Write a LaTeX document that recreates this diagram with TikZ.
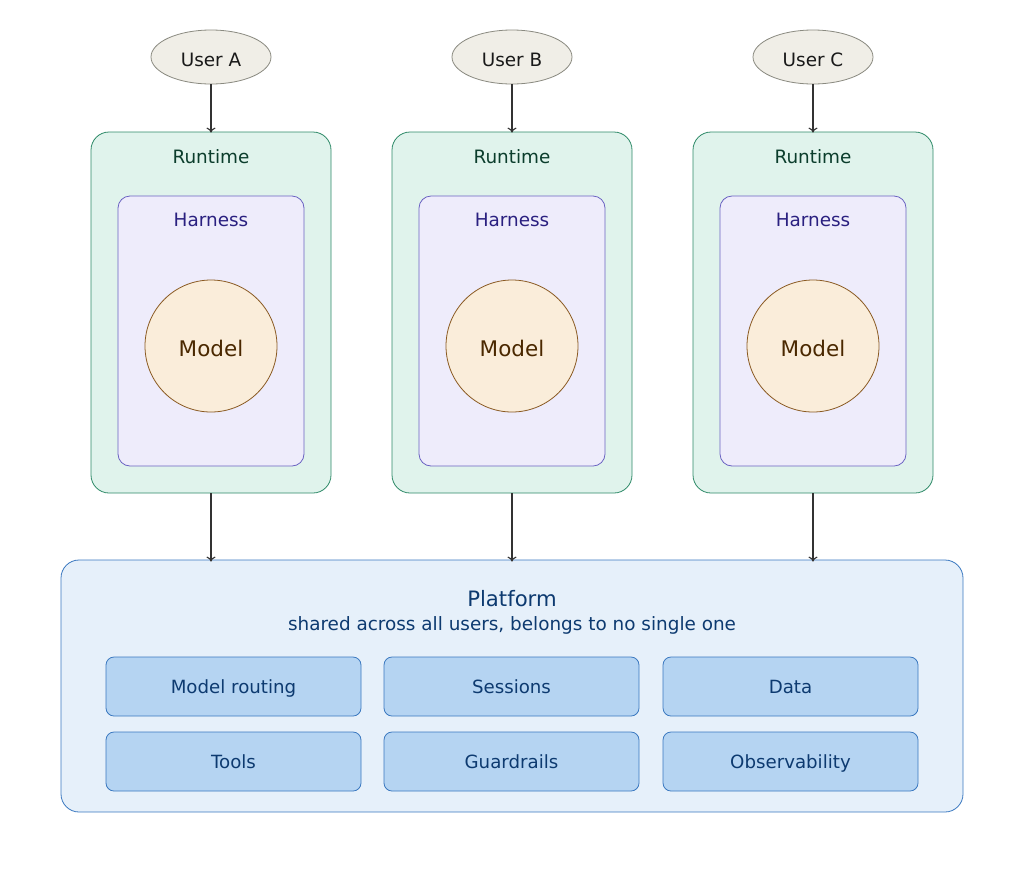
\documentclass[tikz,border=0pt]{standalone}
\usepackage{fontspec}
\setmainfont{DejaVu Sans}
\usetikzlibrary{arrows.meta,shapes.geometric}
\definecolor{userfill}{HTML}{F0EEE7}
\definecolor{userdraw}{HTML}{8A8A80}
\definecolor{rtfill}{HTML}{E0F3EC}
\definecolor{rtdraw}{HTML}{2E8A68}
\definecolor{rttext}{HTML}{0B3D2C}
\definecolor{hfill}{HTML}{EEECFB}
\definecolor{hdraw}{HTML}{6A62C2}
\definecolor{htext}{HTML}{2A2080}
\definecolor{mfill}{HTML}{FAEDDA}
\definecolor{mdraw}{HTML}{8A5A22}
\definecolor{mtext}{HTML}{4A2800}
\definecolor{pfill}{HTML}{E6F0FA}
\definecolor{pdraw}{HTML}{3A78C0}
\definecolor{ptext}{HTML}{0D3A70}
\definecolor{bfill}{HTML}{B5D4F2}
\definecolor{arrowc}{HTML}{333333}
\tikzset{
  userbox/.style={ellipse, draw=userdraw, fill=userfill, line width=0.8pt, minimum width=120pt, minimum height=54pt, inner sep=0pt},
  rtbox/.style={draw=rtdraw, fill=rtfill, line width=0.8pt, rounded corners=18pt, minimum width=240pt, minimum height=361pt, inner sep=0pt},
  hbox/.style={draw=hdraw, fill=hfill, line width=0.8pt, rounded corners=12pt, minimum width=186pt, minimum height=270pt, inner sep=0pt},
  mcirc/.style={circle, draw=mdraw, fill=mfill, line width=0.8pt, minimum size=132pt, inner sep=0pt},
  fixtext/.style={text height=0.73em, text depth=0.24em},
  mlabel/.style={fixtext, font=\fontsize{21.5}{25}\selectfont, text=mtext, inner sep=0pt},
  rtlabel/.style={fixtext, font=\fontsize{18.4}{22}\selectfont, text=rttext, inner sep=0pt},
  hlabel/.style={fixtext, font=\fontsize{18.4}{22}\selectfont, text=htext, inner sep=0pt},
  platbox/.style={draw=pdraw, fill=pfill, line width=0.8pt, rounded corners=18pt, minimum width=902pt, minimum height=252pt, inner sep=0pt},
  svcbox/.style={draw=pdraw, fill=bfill, line width=0.8pt, rounded corners=8pt, minimum width=255pt, minimum height=59pt, inner sep=0pt},
  svclabel/.style={fixtext, font=\fontsize{18.2}{22}\selectfont, text=ptext, inner sep=0pt},
  conn/.style={draw=arrowc, line width=1.1pt, -{To[length=5pt,width=9pt]}}
}
\begin{document}
\begin{tikzpicture}[x=1pt,y=-1pt]
\useasboundingbox (0,0) rectangle (1024,873);
\foreach \n/\x/\u in {a/211/A, b/512/B, c/813/C}{
  \node[userbox] (user\n) at (\x,57) {};
  \node[rtlabel, text=black!90] (userl\n) at (\x,64) {User \u};
  \node[rtbox] (rt\n) at (\x,312.5) {};
  \node[rtlabel] (rtl\n) at (\x,161) {Runtime};
  \node[hbox] (h\n) at (\x,331) {};
  \node[hlabel] (hl\n) at (\x,224) {Harness};
  \node[mcirc] (m\n) at (\x,346) {};
  \node[mlabel] (ml\n) at (\x,354) {Model};
}
\node[platbox] (plat) at (512,686) {};
\node[fixtext, font=\fontsize{21.2}{25}\selectfont, text=ptext, inner sep=0pt] (ptitle) at (512,604) {Platform};
\node[fixtext, font=\fontsize{18.4}{22}\selectfont, text=ptext, inner sep=0pt] (psub) at (512,628) {shared across all users, belongs to no single one};
\foreach \nm/\x/\y/\t in {s1/233.5/686.5/Model routing, s2/511.5/686.5/Sessions, s3/790.5/686.5/Data, s4/233.5/761.5/Tools, s5/511.5/761.5/Guardrails, s6/790.5/761.5/Observability}{
  \node[svcbox] (\nm) at (\x,\y) {};
  \node[svclabel] (\nm l) at (\x,\y+4.5) {\t};
}
\foreach \n in {a,b,c}{
  \draw[conn] (user\n.south) -- ([yshift=-1pt]rt\n.north);
  \draw[conn] (rt\n.south) -- ([yshift=-2pt]rt\n.south |- plat.north);
}
\end{tikzpicture}
\end{document}
